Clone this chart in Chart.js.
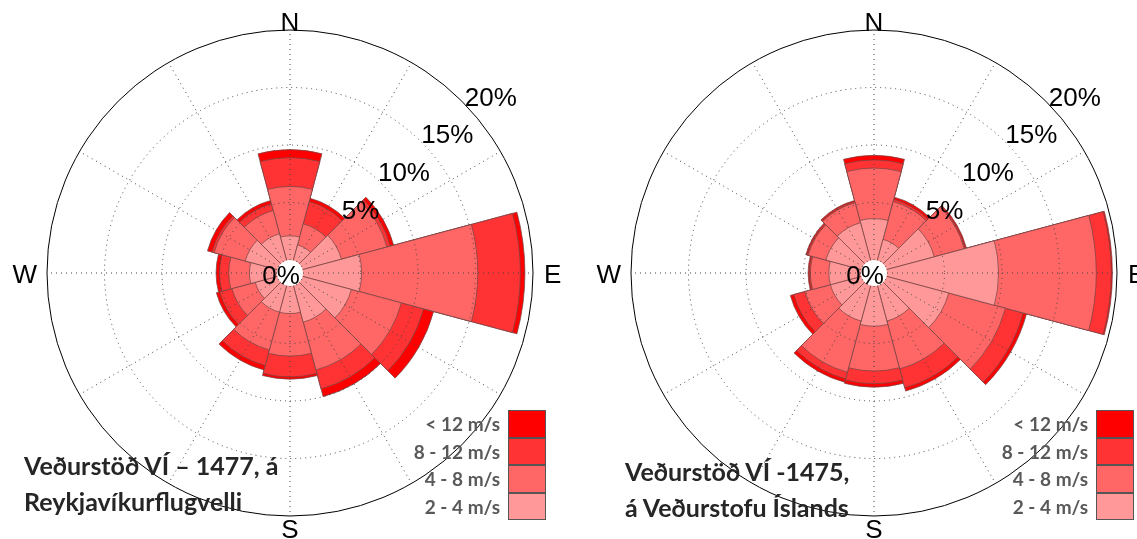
<!DOCTYPE html>
<html>
<head>
<meta charset="utf-8">
<script src="https://cdn.jsdelivr.net/npm/chart.js@4.4.1/dist/chart.umd.min.js"></script>
<style>
  html, body { margin: 0; padding: 0; background: #fff; overflow: hidden; }
  #page { position: relative; width: 1137px; height: 539px; }
  .rose { position: absolute; top: 0; width: 570px; height: 539px; }
  #roseA { left: 0; }
  #roseB { left: 567px; }
  .station { position: absolute; font-family: Lato, "Open Sans", sans-serif; font-weight: bold;
             font-size: 25px; color: #262626; line-height: 36px; white-space: nowrap; }
  .legend { position: absolute; }
  .legend .row { position: relative; height: 27.5px; }
  .legend .txt { position: absolute; right: 46px; top: 0; line-height: 27.5px; white-space: nowrap;
                 font-family: Lato, "Open Sans", sans-serif; font-weight: bold; font-size: 19px; color: #595959; }
  .legend .box { position: absolute; right: 0; top: 0; width: 36px; height: 25.5px; border: 1px solid #555; }
</style>
</head>
<body>
<div id="page">
  <canvas id="roseA" class="rose" width="570" height="539"></canvas>
  <canvas id="roseB" class="rose" width="570" height="539"></canvas>
  <div class="station" style="left:24px; top:447px;">Veðurstöð VÍ – 1477, á<br>Reykjavíkurflugvelli</div>
  <div class="station" style="left:625px; top:453px;">Veðurstöð VÍ -1475,<br>á Veðurstofu Íslands</div>
  <div class="legend" id="legendA" style="left:380px; top:410px; width:166px;"></div>
  <div class="legend" id="legendB" style="left:968px; top:410px; width:166px;"></div>
</div>
<script>
// 12 direction sectors of 30°, clockwise from north
const DIRECTIONS = ['0°', '30°', '60°', '90°', '120°', '150°',
                    '180°', '210°', '240°', '270°', '300°', '330°'];

// wind speed classes, weakest first
const SPEED_CLASSES = ['2 - 4 m/s', '4 - 8 m/s', '8 - 12 m/s', '< 12 m/s'];
const CLASS_COLORS = ['#ff9999', '#ff6666', '#ff3333', '#ff0000'];

// radial axis (% of time)
const RING_TICKS = [0, 5, 10, 15, 20];
const RING_MAX = 20;
const HOLE = -1.13;          // empty core drawn inside the 0% ring

// Station VÍ 1477 – Reykjavíkurflugvöllur, frequency (%) per sector and class
const rvk_2_4  = [2.1, 1.4, 3.5, 5.1, 4.4, 3.3, 2.4, 2.4, 2.0, 2.4, 2.9, 2.4];
const rvk_4_8  = [4.3, 1.9, 4.1, 10.1, 4.5, 4.3, 3.7, 3.4, 2.1, 1.8, 2.8, 2.1];
const rvk_8_12 = [2.5, 2.0, 0.3, 3.7, 2.0, 1.7, 1.8, 1.4, 1.1, 0.8, 0.2, 0.6];
const rvk_12   = [0.7, 0.3, 0.3, 0.4, 0.9, 0.7, 0.2, 0.4, 0.3, 0.3, 0.4, 0.3];

// Station VÍ 1475 – Veðurstofa Íslands
const vi_2_4  = [3.6, 1.9, 4.3, 9.7, 5.6, 3.2, 3.5, 3.2, 2.8, 2.8, 3.2, 3.4];
const vi_4_8  = [4.4, 3.4, 2.7, 8.5, 5.1, 4.3, 3.9, 4.6, 2.3, 1.6, 1.6, 1.8];
const vi_8_12 = [0.7, 0.2, 0.1, 1.3, 1.6, 1.7, 1.1, 0.6, 1.0, 0.1, 0.1, 0.1];
const vi_12   = [0.4, 0.2, 0.1, 0.1, 0.3, 0.3, 0.3, 0.3, 0.3, 0.1, 0.1, 0.1];

// Stack the classes: each dataset is the running total up to its class.
// Dataset 0 (weakest class, shortest wedges) is painted last, on top.
function stackedDatasets(classes) {
  const running = new Array(DIRECTIONS.length).fill(0);
  return classes.map((vals, k) => {
    const data = vals.map((v, i) => (running[i] = +(running[i] + v).toFixed(2)));
    return {
      label: SPEED_CLASSES[k],
      data,
      backgroundColor: CLASS_COLORS[k],
      borderColor: 'rgba(120,70,70,0.75)',
      borderWidth: 1
    };
  });
}

// Core hole, spokes through the sector centres, ring and compass labels
const roseDecor = {
  id: 'roseDecor',
  afterDatasetsDraw(chart) {
    const s = chart.scales.r, ctx = chart.ctx;
    const r0 = s.getDistanceFromCenterForValue(0);
    ctx.save();
    ctx.fillStyle = '#fff';
    ctx.beginPath();
    ctx.arc(s.xCenter, s.yCenter, r0, 0, Math.PI * 2);
    ctx.fill();
    ctx.restore();
  },
  afterDraw(chart) {
    const s = chart.scales.r, ctx = chart.ctx;
    const cx = s.xCenter, cy = s.yCenter;
    const r0 = s.getDistanceFromCenterForValue(0);
    const R = s.getDistanceFromCenterForValue(RING_MAX);
    const step = 360 / DIRECTIONS.length;
    ctx.save();
    ctx.strokeStyle = '#444';
    ctx.lineWidth = 1;
    ctx.setLineDash([1, 4]);
    for (let a = 0; a < 360; a += step) {
      const t = a * Math.PI / 180;
      ctx.beginPath();
      ctx.moveTo(cx + r0 * Math.sin(t), cy - r0 * Math.cos(t));
      ctx.lineTo(cx + R * Math.sin(t), cy - R * Math.cos(t));
      ctx.stroke();
    }
    ctx.setLineDash([]);

    ctx.fillStyle = '#000';
    ctx.font = '26px "Liberation Sans", Arial, sans-serif';
    ctx.textAlign = 'center';
    ctx.textBaseline = 'middle';
    const la = 41 * Math.PI / 180;
    RING_TICKS.forEach(v => {
      if (v === 0) {
        ctx.fillText('0%', cx - 9, cy + 4);
      } else {
        const d = s.getDistanceFromCenterForValue(v) + 23;
        ctx.fillText(v + '%', cx + d * Math.cos(la), cy - d * Math.sin(la));
      }
    });

    ctx.textBaseline = 'alphabetic';
    ctx.fillText('N', cx, cy - R + 1);
    ctx.fillText('S', cx, cy + R + 22);
    ctx.textAlign = 'right';
    ctx.fillText('W', cx - R - 10, cy + 10);
    ctx.textAlign = 'left';
    ctx.fillText('E', cx + R + 11, cy + 10);
    ctx.restore();
  }
};

function makeRose(canvasId, classes, padding) {
  return new Chart(document.getElementById(canvasId), {
    type: 'polarArea',
    data: { labels: DIRECTIONS, datasets: stackedDatasets(classes) },
    options: {
      responsive: false,
      animation: false,
      events: [],
      layout: { padding },
      plugins: { legend: { display: false }, tooltip: { enabled: false } },
      scales: {
        r: {
          min: HOLE,
          max: RING_MAX,
          startAngle: -360 / DIRECTIONS.length / 2,
          afterBuildTicks: sc => { sc.ticks = RING_TICKS.map(v => ({ value: v })); },
          ticks: { display: false },
          pointLabels: { display: false },
          angleLines: { display: false },
          grid: {
            z: 1,
            circular: true,
            color: c => (c.tick && c.tick.value === RING_MAX) ? '#000' : '#444',
            lineWidth: c => (c.tick && c.tick.value === 0) ? 0 : 1
          },
          border: { dash: c => (c.tick && c.tick.value === RING_MAX) ? [] : [1, 4] }
        }
      }
    },
    plugins: [roseDecor]
  });
}

makeRose('roseA', [rvk_2_4, rvk_4_8, rvk_8_12, rvk_12], { left: 47, right: 37, top: 30, bottom: 23 });
makeRose('roseB', [vi_2_4, vi_4_8, vi_8_12, vi_12], { left: 64, right: 20, top: 30, bottom: 23 });

// legends: strongest class on top
function buildLegend(id) {
  const el = document.getElementById(id);
  for (let k = SPEED_CLASSES.length - 1; k >= 0; k--) {
    const row = document.createElement('div');
    row.className = 'row';
    const t = document.createElement('div');
    t.className = 'txt';
    t.textContent = SPEED_CLASSES[k];
    const b = document.createElement('div');
    b.className = 'box';
    b.style.background = CLASS_COLORS[k];
    row.appendChild(t);
    row.appendChild(b);
    el.appendChild(row);
  }
}
buildLegend('legendA');
buildLegend('legendB');
</script>
</body>
</html>
